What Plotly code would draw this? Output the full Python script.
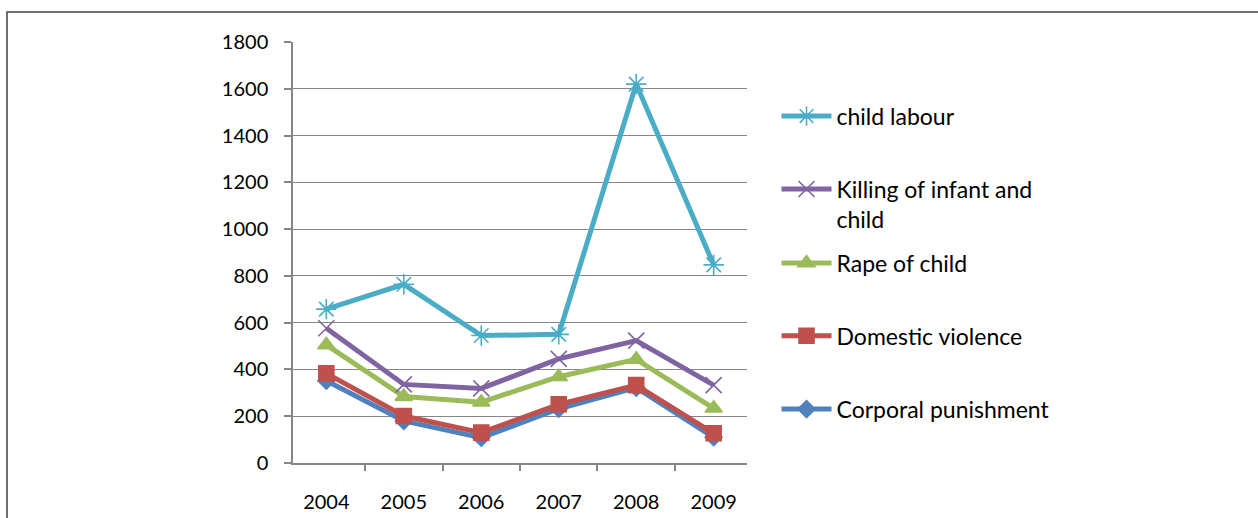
import plotly.graph_objects as go

years = ["2004", "2005", "2006", "2007", "2008", "2009"]
corporal_punishment = [352, 180, 108, 232, 322, 110]
domestic_violence = [383, 201, 130, 251, 333, 127]
rape_of_child = [505, 284, 260, 369, 443, 234]
killing_of_infant_and_child = [576, 336, 319, 445, 523, 333]
child_labour = [658, 764, 545, 550, 1620, 847]

names = ["Corporal punishment", "Domestic violence", "Rape of child",
         "Killing of infant and<br>child", "child labour"]
series = [corporal_punishment, domestic_violence, rape_of_child,
          killing_of_infant_and_child, child_labour]
colors = ["#4F81BD", "#C0504D", "#9BBB59", "#8064A2", "#4BACC6"]
symbols = ["diamond", "square", "triangle-up", "x-thin-open", "asterisk-open"]
sizes = [13, 15, 15, 16, 17]
legend_ids = ["legend5", "legend4", "legend3", "legend2", "legend"]
legend_y = [0.128, 0.302, 0.475, 0.615, 0.824]

FONT = "Lato"

fig = go.Figure()
for nm, ys, c, sym, sz, lid in zip(names, series, colors, symbols, sizes, legend_ids):
    fig.add_trace(go.Scatter(
        x=years, y=ys, name=nm, mode="lines+markers",
        line=dict(color=c, width=5),
        marker=dict(symbol=sym, size=sz, color=c, line=dict(color=c, width=1.6)),
        legend=lid,
    ))

layout_legends = {}
for lid, ly in zip(legend_ids, legend_y):
    layout_legends[lid] = dict(
        x=1.065, xanchor="left", y=ly, yanchor="middle",
        bgcolor="rgba(0,0,0,0)", borderwidth=0,
        font=dict(family=FONT, size=23, color="#000000"),
        valign="top", itemwidth=50,
    )

fig.update_layout(
    width=1258, height=518,
    margin=dict(l=293, r=511, t=42, b=55, autoexpand=False),
    paper_bgcolor="white", plot_bgcolor="white",
    font=dict(family=FONT, size=20, color="#000000"),
    showlegend=True,
    **layout_legends,
)

fig.update_yaxes(
    range=[0, 1800], dtick=200, tick0=0,
    showgrid=True, gridcolor="#868686", gridwidth=1,
    showline=True, linecolor="#868686", linewidth=1.5,
    ticks="outside", ticklen=7, tickcolor="#868686", tickwidth=1.5,
    zeroline=False, ticklabelstandoff=12, automargin=False,
    tickfont=dict(family=FONT, size=20, color="#000000"),
)
fig.update_xaxes(
    type="category",
    showgrid=False, showline=True, linecolor="#868686", linewidth=1.5,
    ticks="outside", ticklen=6, tickcolor="#868686", tickwidth=1.5,
    tickson="boundaries", ticklabelstandoff=20, automargin=False,
    tickfont=dict(family=FONT, size=20, color="#000000"),
)

# chart frame
fig.add_shape(type="rect", xref="paper", yref="paper",
              x0=(7 - 293) / 454, x1=3.0, y0=-1.0, y1=(463 - 12) / 421,
              line=dict(color="#404040", width=1.5), layer="below")

fig.write_html("out.html")
